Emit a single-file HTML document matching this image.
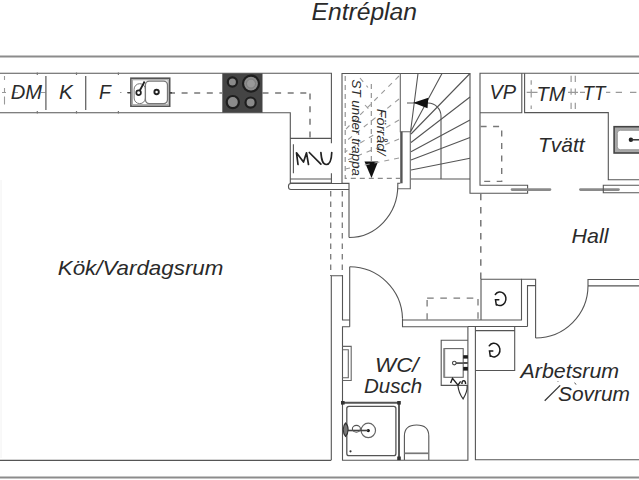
<!DOCTYPE html>
<html><head><meta charset="utf-8">
<style>
html,body{margin:0;padding:0;background:#fff;width:639px;height:480px;overflow:hidden}
svg{display:block}
.w{stroke:#555;stroke-width:1.1;fill:none}
.g{stroke:#888;stroke-width:1.5;fill:none}
.d{stroke:#8a8a8a;stroke-width:1.1;fill:none;stroke-dasharray:6 6}
.t{font-family:"Liberation Sans",sans-serif;font-style:italic;fill:#2a2a2a}
</style></head><body>
<div id="wrap"><svg width="639" height="480" viewBox="0 0 639 480">
<rect width="639" height="480" fill="#fff"/>
<!-- title -->
<text class="t" x="311.50" y="19.80" font-size="23" textLength="105.5" lengthAdjust="spacingAndGlyphs">Entréplan</text>

<!-- outer top wall -->
<path class="g" d="M0,56.4H639" style="stroke-width:2;stroke:#8c8c8c"/>
<!-- bottom walls -->
<path d="M1,180V458" stroke="#f2f2f2" stroke-width="1"/>
<path class="g" d="M0,477.4H639" style="stroke-width:2;stroke:#8c8c8c"/>
<path class="w" d="M0,460.4H331.3" style="stroke-width:1.3"/>

<!-- KITCHEN counter -->
<path class="w" d="M0,73.3H331.4V143.3M331.4,173.3V183.5M0,112.8H290.3V184M290.3,138.4H331.4M290.3,179H331.4M290.3,183H331.4M293.4,144.2V173.3"/>
<path class="w" d="M349,183.5H291a2.5,2.5 0 0 0 -2.5,2.5v1a2.5,2.5 0 0 0 2.5,2.5H349"/>
<path class="d" d="M169,93H222M262.5,93H310M310,93.6V138.4" style="stroke:#777;stroke-width:1.5;stroke-dasharray:6 6.6"/>
<path class="d" d="M4.5,76V80M4.5,88V92M4.5,96.5V104.5M2,92.5H6M12.7,92.5H18M41,92.5H45.5M120,92.5H121.5M127,92.5H129" style="stroke-dasharray:none;stroke:#999"/>
<path d="M37.3,72.5V75M37.3,111V113.5M76.5,72.5V75M76.5,111V113.5M118.4,72.5V75M118.4,111V113.5" stroke="#777" stroke-width="1.2"/>
<path class="w" d="M45.9,76V110M85.7,76V110" style="stroke:#666;stroke-width:1.3"/>
<!-- sink -->
<rect x="130.9" y="78.2" width="38.8" height="28" fill="none" stroke="#555" stroke-width="1.6"/>
<rect x="132.4" y="79.7" width="35.8" height="25" fill="none" stroke="#aaa" stroke-width="1.2"/>
<rect x="134.1" y="83.7" width="11.3" height="19.9" rx="5.6" fill="none" stroke="#777" stroke-width="1"/>
<rect x="145.4" y="81.1" width="22.1" height="22.5" rx="4" fill="none" stroke="#777" stroke-width="1.3"/>
<circle cx="138.6" cy="92.75" r="2.3" fill="none" stroke="#222" stroke-width="1.7"/>
<circle cx="156.6" cy="92" r="2.2" fill="none" stroke="#222" stroke-width="1.9"/>
<path d="M139.8,90.5L144.6,81.5" stroke="#222" stroke-width="1.8"/>
<path d="M127.5,92.75H131M169.8,92.75H172" stroke="#444" stroke-width="1.3"/>
<!-- stove -->
<rect x="222.3" y="73.4" width="40.2" height="39.2" fill="#444"/>
<circle cx="232.4" cy="82" r="4.6" fill="#8a8a8a" stroke="#1e1e1e" stroke-width="2.2"/>
<circle cx="251" cy="83.6" r="8" fill="#8c8c8c" stroke="#1e1e1e" stroke-width="2.2"/>
<circle cx="251" cy="83.6" r="4.5" fill="#999" stroke="#777" stroke-width="0.8"/>
<circle cx="232.8" cy="102.1" r="6.1" fill="#8a8a8a" stroke="#1e1e1e" stroke-width="2.2"/>
<circle cx="250.6" cy="102.6" r="5.1" fill="#8a8a8a" stroke="#1e1e1e" stroke-width="2.2"/>
<text class="t" x="10.75" y="98.80" font-size="21" textLength="31.37" lengthAdjust="spacingAndGlyphs">DM</text>
<text class="t" x="59.00" y="98.80" font-size="21" textLength="13.80" lengthAdjust="spacingAndGlyphs">K</text>
<text class="t" x="99.00" y="99.00" font-size="21" textLength="11.80" lengthAdjust="spacingAndGlyphs">F</text>
<path d="M298,164.5L296.5,152.8L303.5,162L306.5,152.8L308.5,164.5M309.3,152.5L320.9,164.2M320.9,152.5C321.5,160 322.5,164.5 326.3,164.5C330,164.5 331.5,160 331.75,152.5" fill="none" stroke="#222" stroke-width="1.7" stroke-linejoin="round" stroke-linecap="round"/>

<!-- STAIR -->
<path class="w" d="M342,183.2V73.5H470V193.2H527.6V185.3H480V73.3H639"/>
<path class="w" d="M342,183.2H349V237.5"/>
<path class="w" d="M349,237.5A48.7,51.9 0 0 0 397.8,185.6V183.3H400.3"/>
<path class="w" d="M400.3,73.5V131.7H410.3V188.75H397.8" style="stroke:#666"/>
<path d="M401.4,131.7V183.3" stroke="#555" stroke-width="2.4"/>
<path class="w" d="M410.5,132L418,73.5M410.5,132L442,73.5M411,134L470,73.5M411,142.5L470,97M411,151.7L470,120M411,160L470,137.5M411,170L470,158.3M411,179H470"/>
<path class="w" d="M441,179V116A13,13 0 0 0 428,103H407"/>
<path d="M413.3,102.7L428.3,97.8L427.5,108.3Z" fill="#111"/>
<!-- storage dashed box -->
<path class="d" d="M345.2,76V178.4H400" style="stroke-dasharray:5 4"/>
<path class="d" d="M371.3,84V161" style="stroke-dasharray:5 4"/>
<path d="M364.5,161.6H378.1L371.5,178.1Z" fill="#111"/>
<path class="d" d="M399,76L345,130M399,99L345,142M399,120L345,152M399,139L345,161M399,158L345,169M360,78L368,87.5M365,105L370,110.6" style="stroke-dasharray:5 5;stroke:#9a9a9a"/>
<text class="t" font-size="13.5" transform="translate(352.3,79.5) rotate(90)" textLength="96.5" lengthAdjust="spacingAndGlyphs">ST under trappa</text>
<text class="t" font-size="13.5" transform="translate(377.3,108.8) rotate(90)" textLength="46.5" lengthAdjust="spacingAndGlyphs">Förråd/</text>

<!-- dashed passage -->
<path class="d" d="M330.7,191V276M342.3,191V276" style="stroke-dasharray:5.5 5;stroke:#7a7a7a;stroke-width:1.3"/>

<!-- WC -->
<path class="w" d="M331.3,460V275.8H342.5V320H349.7M349.7,326.7H342.5V460.3H467.9V326.7H402.5V318.3M349.7,266.7V326.7"/>
<path class="w" d="M349.7,266.7A53,53 0 0 1 402.5,318.3"/>
<path class="w" d="M402.5,320H521.5V279.2H481V320"/>
<path class="d" d="M427.1,298.1H478M427.1,300V320M478,299V320" style="stroke-dasharray:6.6 6.6;stroke:#7a7a7a;stroke-width:1.3"/>
<path d="M342.5,346.4H351.2V380.5H342.5M342.5,349.7H348.3V377.7H342.5" fill="none" stroke="#666" stroke-width="1.1"/>
<!-- sink -->
<path class="w" d="M467.9,340.2H441.2V385.4H467.9"/>
<rect x="444" y="348.6" width="19.2" height="28.7" fill="none" stroke="#666" stroke-width="1.1"/>
<path d="M444.4,348.6V377.3" stroke="#888" stroke-width="1.6"/>
<rect x="463.2" y="355.2" width="4.7" height="3.4" fill="#1a1a1a"/><rect x="463.2" y="362" width="4.7" height="2" fill="#333"/><rect x="463.2" y="366.9" width="4.7" height="3.7" fill="#1a1a1a"/>
<path d="M456,363.1H467.9" stroke="#555" stroke-width="1.8"/><circle cx="454.3" cy="363.1" r="1.8" fill="#fff" stroke="#444" stroke-width="1.1"/>
<path d="M458,386C458.5,392 461,396 463.1,398.9C465.5,395 467.5,390 467.2,385.4" fill="none" stroke="#333" stroke-width="1.2"/>
<path d="M450.6,383L452.5,378.3L458,385.1L460.6,381.4M461.9,384C461.9,379.5 465.6,379.5 465.6,384" fill="none" stroke="#222" stroke-width="1.4"/>
<!-- shower -->
<path d="M342.7,402.8H399V459" fill="none" stroke="#555" stroke-width="1.9"/>
<rect x="341" y="401" width="3.6" height="3.6" fill="#333"/><rect x="397.2" y="401" width="3.6" height="3.6" fill="#333"/><rect x="397.2" y="456.5" width="3.6" height="3.6" fill="#333"/>
<rect x="346.8" y="406.3" width="49.1" height="49.4" rx="2.2" fill="none" stroke="#555" stroke-width="1.3"/>
<circle cx="368.3" cy="430.4" r="7.2" fill="none" stroke="#666" stroke-width="1.2"/>
<circle cx="368.3" cy="430.6" r="1.6" fill="#111"/>
<path d="M344,430.5H368.3" stroke="#444" stroke-width="1.6"/>
<ellipse cx="356.4" cy="428.8" rx="4" ry="3.4" fill="none" stroke="#555" stroke-width="1.1"/>
<path d="M345.5,423C349,426 349,433 345.5,436.5C342.5,433 342.5,426 345.5,423Z" fill="#777" stroke="#333" stroke-width="1.1"/>
<circle cx="350.5" cy="451.3" r="1.1" fill="#333"/>
<!-- toilet -->
<path class="w" d="M404.4,460V436C404.4,428 409,425 416.6,425C424.2,425 428.8,428 428.8,436V460"/><path d="M404.4,453.3H428.8" stroke="#777" stroke-width="1.7"/>
<text class="t" x="375.00" y="371.60" font-size="21" textLength="43.59" lengthAdjust="spacingAndGlyphs">WC/</text>
<text class="t" x="364.00" y="393.00" font-size="21" textLength="58.13" lengthAdjust="spacingAndGlyphs">Dusch</text>

<!-- HALL closets & Arbetsrum -->
<path class="w" d="M521.4,279.2H535.6V338M527.5,326.5V285.6H535.6M467.9,326.5H527.5"/>
<path class="w" d="M475.4,326.5V459.7H639"/>
<path class="w" d="M475.4,330.6H514.7M514.7,326.5V370.5H475.4"/>
<path class="w" d="M535.6,338A52.4,52.4 0 0 0 588,285.6V279.5H639M588,285.9H639"/>
<path class="d" d="M480.8,193.8V279" style="stroke-dasharray:6.5 6.6;stroke:#6e6e6e;stroke-width:1.4"/>
<g id="rot" fill="none" stroke="#1a1a1a" stroke-width="1.5" stroke-linecap="round">
<path d="M495.3,294.5A6,6.8 0 1 1 496.8,304.6"/>
<path d="M498.8,299.8H495.5L496.3,305"/>
</g>
<use href="#rot" transform="translate(-6,51.3)"/>
<text class="t" x="571.50" y="242.80" font-size="21" textLength="36.91" lengthAdjust="spacingAndGlyphs">Hall</text>
<text class="t" x="520.50" y="378.20" font-size="21" textLength="98.66" lengthAdjust="spacingAndGlyphs">Arbetsrum</text>
<text class="t" x="558.00" y="401.00" font-size="21" textLength="71.96" lengthAdjust="spacingAndGlyphs">Sovrum</text>
<path d="M544.7,400.8L560.2,385.4" stroke="#333" stroke-width="1.2"/>
<path d="M574.6,382.6L576,384.6M557.8,381.3L558.4,382" stroke="#555" stroke-width="1"/>

<!-- TVATT -->
<path class="w" d="M521.8,73.3V112.8H480M524.6,73.3V112.6H608.3V179.8H639"/>
<path class="d" d="M526.7,92.3H537.5M568,92.3H578M580,92.3H585M606,92.3H610.3M615.7,92.3H622M630,92.3H636.4M531.2,80.3V84.8M531.2,89.3V97.4M531.2,105.5V109M571.1,75.8V82M571.1,88.4V94.7M571.1,102.8V109M575.3,75.8V82M575.3,88.4V94.7M575.3,102.8V109" style="stroke-dasharray:none;stroke:#999;stroke-width:1.2"/>
<path class="d" d="M480.6,126.5H501.7V181.4H480.6" style="stroke-dasharray:6 6.5;stroke:#777;stroke-width:1.4"/>
<rect x="614.1" y="126.7" width="30" height="26.3" fill="#a8a8a8" stroke="#444" stroke-width="1.6"/>
<rect x="617.3" y="130.3" width="30" height="19.4" rx="3" fill="#fff" stroke="#888" stroke-width="0.8"/>
<circle cx="630.9" cy="139.8" r="2.2" fill="#222"/><path d="M631,139.8H639" stroke="#333" stroke-width="1.5"/>
<!-- sliding doors -->
<path d="M512,189.6H550" stroke="#8a8a8a" stroke-width="2.6" stroke-linecap="round"/>
<path d="M580.4,189.6H618.5" stroke="#8a8a8a" stroke-width="2.6" stroke-linecap="round"/>
<path class="w" d="M639,185.2H603.3V192.8H639"/>
<text class="t" x="489.50" y="99.10" font-size="21" textLength="26.62" lengthAdjust="spacingAndGlyphs">VP</text>
<text class="t" x="536.50" y="100.50" font-size="21" textLength="29.03" lengthAdjust="spacingAndGlyphs">TM</text>
<text class="t" x="582.50" y="100.10" font-size="21" textLength="22.83" lengthAdjust="spacingAndGlyphs">TT</text>
<text class="t" x="538.00" y="152.00" font-size="21" textLength="46.64" lengthAdjust="spacingAndGlyphs">Tvätt</text>

<text class="t" x="57.75" y="274.70" font-size="21" textLength="165.62" lengthAdjust="spacingAndGlyphs">Kök/Vardagsrum</text>
</svg></div>
</body></html>
